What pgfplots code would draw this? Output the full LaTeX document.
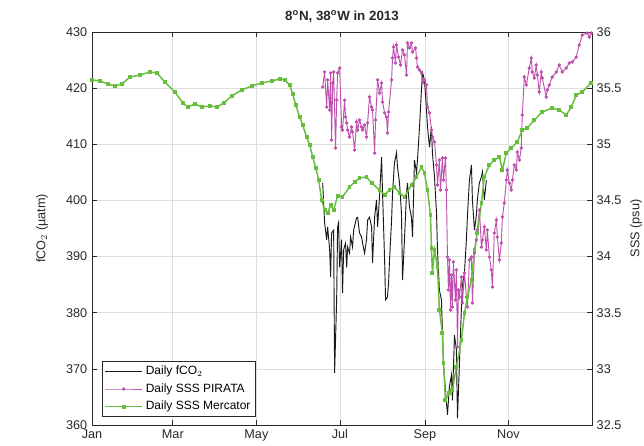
\documentclass[border=0pt]{standalone}
\usepackage{fontspec}
\setmainfont{Liberation Sans}
\usepackage{pgfplots}
\pgfplotsset{compat=1.18}
\definecolor{pirata}{RGB}{190,80,175}
\definecolor{merc}{RGB}{102,190,60}
\definecolor{gridc}{RGB}{222,222,222}
\definecolor{axc}{RGB}{40,40,40}
\pgfplotsset{
  common/.style={
    at={(0,0)}, anchor=south west, scale only axis,
    width=375pt, height=294.75pt,
    xmin=0, xmax=365,
    axis line style={axc, line width=0.6pt},
    tick style={axc, line width=0.5pt}, major tick length=4pt,
    tick label style={font=\fontsize{9.5}{11}\selectfont, text=axc},
    label style={font=\fontsize{9.5}{11}\selectfont, text=axc},
    /pgf/number format/assume math mode=true,
  }
}
\begin{document}
\begin{tikzpicture}[x=1pt,y=1pt]
\useasboundingbox (-69,-15.75) rectangle (414,318.75);
\begin{axis}[common,
  ymin=360, ymax=430,
  xtick={0,59,120,181,243,304}, xticklabels={Jan,Mar,May,Jul,Sep,Nov},
  ytick={360,370,380,390,400,410,420,430}, ytick pos=left,
  grid=major, major grid style={gridc, line width=0.5pt},
  ylabel={fCO$_2$ (µatm)},
  ylabel style={at={(axis description cs:-0.1,0.5)}, anchor=center},
  title={\textbf{8\textsuperscript{o}N, 38\textsuperscript{o}W in 2013}},
  title style={font=\fontsize{10}{12}\selectfont, text=axc, at={(axis description cs:0.5,1)}, anchor=south, yshift=-2.5pt},
]
\addplot[black!90, line width=0.7pt] coordinates {
(168.4,403.1) (169.8,396.0) (171.3,393.0) (172.0,395.3) (173.5,391.2) (174.2,386.4) (174.9,394.2) (176.4,394.7) (177.1,369.3) (178.6,382.3) (179.3,395.3) (180.0,396.0) (180.8,388.1) (182.2,393.0) (182.9,383.5) (183.7,391.2) (185.1,392.4) (185.9,388.1) (186.6,391.7) (188.0,390.6) (188.8,393.5) (190.2,391.7) (191.0,394.7) (193.1,396.9) (193.9,397.0) (195.3,394.2) (196.8,393.5) (197.5,392.4) (199.0,390.6) (200.4,393.0) (201.2,396.5) (202.6,397.0) (204.1,395.3) (204.8,388.9) (206.3,397.0) (207.7,400.1) (208.5,395.3) (209.9,400.6) (211.4,407.7) (212.1,401.3) (213.6,389.4) (214.3,382.3) (215.7,382.8) (216.5,385.3) (217.2,389.4) (218.7,396.5) (219.4,401.3) (220.8,406.7) (222.3,408.5) (223.0,406.0) (224.5,403.1) (225.9,397.8) (226.7,385.8) (228.1,393.0) (229.6,401.3) (230.3,403.1) (231.8,398.8) (233.2,397.0) (234.0,393.5) (235.4,407.2) (236.9,404.9) (237.6,407.2) (239.1,413.1) (240.5,419.7) (241.3,422.7) (242.7,421.5) (244.2,416.1) (244.9,413.1) (246.4,409.5) (247.8,413.1) (248.5,408.5) (250.0,404.2) (251.5,397.8) (252.2,391.2) (253.6,384.0) (255.1,382.3) (255.8,376.9) (256.6,370.7) (258.0,366.2) (259.5,361.8) (260.9,366.8) (262.4,368.9) (263.1,364.4) (264.6,376.0) (266.0,373.4) (266.8,361.2) (268.2,370.7) (269.7,381.0) (270.4,384.9) (271.9,387.1) (273.3,393.0) (274.1,397.4) (275.5,403.6) (277.0,406.3) (277.7,400.1) (279.2,394.7) (280.6,397.4) (281.3,400.1) (282.8,403.1) (284.3,404.2) (285.0,405.1) (286.4,400.1) (287.9,403.6)
};
\end{axis}
\begin{axis}[common,
  ymin=32.5, ymax=36,
  xtick=\empty,
  ytick={32.5,33,33.5,34,34.5,35,35.5,36}, ytick pos=right, yticklabel pos=right,
  ylabel={SSS (psu)},
  ylabel style={at={(axis description cs:1.088,0.5)}, anchor=center, rotate=0},
  legend style={at={(axis description cs:0.02,0.0204)}, anchor=south west,
    draw=axc, line width=0.5pt, fill=white, font=\fontsize{9}{11}\selectfont,
    inner sep=1.5pt, row sep=1.2pt},
  legend cell align=left,
  legend image code/.code={\draw[mark repeat=2,mark phase=2,#1] plot coordinates {(0pt,0pt) (14pt,0pt) (28pt,0pt)};},
]
\addlegendimage{black!90, line width=0.7pt}
\addlegendentry{Daily fCO$_2$}
\addplot[pirata, line width=0.7pt, mark=*, mark size=0.9pt] coordinates {
(168.4,35.510) (169.8,35.644) (171.3,35.332) (172.0,35.573) (173.5,35.305) (174.2,35.635) (174.9,35.038) (175.7,35.546) (176.4,35.644) (177.8,34.967) (178.6,35.394) (179.3,35.635) (180.8,35.679) (182.2,35.154) (182.9,35.127) (184.4,35.394) (185.1,35.243) (185.9,35.190) (186.6,35.127) (188.0,35.065) (189.5,35.154) (190.2,35.109) (191.7,34.949) (193.1,35.199) (193.9,35.127) (195.3,35.216) (196.8,35.154) (197.5,35.127) (199.0,35.172) (200.4,35.065) (201.2,35.190) (202.6,35.421) (204.1,35.332) (204.8,35.305) (206.3,34.922) (207.0,35.216) (208.5,35.573) (209.9,35.457) (211.4,35.546) (212.1,35.377) (213.6,35.279) (215.0,35.243) (215.7,35.101) (216.5,35.288) (218.7,35.573) (219.4,35.768) (220.1,35.866) (221.6,35.724) (222.3,35.884) (223.8,35.777) (225.2,35.706) (226.7,35.840) (228.1,35.795) (229.6,35.617) (230.3,35.902) (231.8,35.858) (233.2,35.902) (234.0,35.822) (236.2,35.858) (236.9,35.768) (237.6,35.688) (239.1,35.662) (240.5,35.635) (241.3,35.546) (242.7,35.573) (244.2,35.528) (244.9,35.332) (246.4,35.279) (247.8,35.127) (248.5,35.065) (250.0,35.020) (251.5,34.816) (252.2,34.638) (253.6,34.860) (254.4,34.593) (255.8,34.878) (256.6,34.682) (258.0,34.878) (258.7,34.593) (259.5,33.996) (260.2,33.703) (260.9,33.970) (261.7,33.524) (262.4,33.836) (263.1,33.551) (263.8,33.952) (265.3,33.613) (266.0,33.881) (266.8,33.195) (267.5,33.703) (268.2,33.640) (269.7,33.818) (270.4,33.587) (271.9,33.854) (273.3,33.640) (274.1,33.551) (275.5,33.970) (277.0,33.996) (277.7,33.587) (279.2,34.032) (280.6,34.148) (281.3,34.237) (282.8,34.415) (284.3,34.085) (285.0,34.148) (286.4,34.264) (287.9,34.059) (288.6,34.237) (290.1,33.996) (291.5,33.881) (292.3,33.729) (293.7,34.210) (295.2,34.326) (295.9,34.174) (297.4,33.970) (298.8,34.121) (299.6,34.353) (301.0,34.477) (302.5,34.682) (303.2,34.771) (304.7,34.655) (306.1,34.593) (306.9,34.682) (308.3,34.816) (309.8,34.771) (310.5,34.931) (312.0,34.860) (313.4,34.967) (314.1,35.261) (315.6,35.599) (317.1,35.528) (319.2,35.679) (320.7,35.768) (321.4,35.644) (322.9,35.590) (324.3,35.706) (325.1,35.617) (326.5,35.466) (328.0,35.644) (328.7,35.590) (331.6,35.421) (332.4,35.484) (333.8,35.528) (336.0,35.599) (338.9,35.644) (341.1,35.706) (343.3,35.644) (346.2,35.679) (348.4,35.724) (350.6,35.733) (353.5,35.777) (355.7,35.884) (357.9,35.973) (361.5,35.99) (363.0,35.955) (364.4,35.991)
};
\addlegendentry{Daily SSS PIRATA}
\addplot[merc, line width=1.1pt, mark=square*, mark size=0.9pt] coordinates {
(0,35.573) (5.8,35.564) (11.7,35.537) (16.8,35.519) (21.9,35.537) (27.7,35.599) (35.0,35.617) (42.3,35.644) (47.4,35.635) (53.2,35.555) (60.5,35.466) (66.3,35.368) (70.0,35.332) (75.1,35.359) (80.2,35.332) (86.0,35.341) (91.1,35.332) (96.2,35.368) (102.0,35.430) (109.3,35.484) (116.6,35.519) (123.9,35.546) (131.2,35.564) (137.0,35.581) (140.7,35.573) (144.3,35.528) (146.5,35.448) (148.7,35.350) (151.6,35.243) (153.8,35.172) (156.7,35.065) (158.9,34.994) (161.1,34.887) (163.3,34.789) (165.5,34.682) (167.6,34.504) (169.8,34.415) (172.0,34.388) (174.2,34.459) (176.4,34.415) (179.3,34.540) (182.9,34.531) (188.0,34.620) (191.7,34.664) (195.3,34.700) (200.4,34.709) (204.1,34.655) (209.9,34.593) (213.6,34.549) (217.2,34.593) (220.8,34.620) (224.5,34.566) (228.1,34.531) (233.2,34.638) (236.9,34.709) (240.5,34.798) (242.7,34.744) (244.9,34.593) (247.1,34.370) (247.8,34.077) (248.5,33.854) (250.0,34.059) (252.2,33.907) (253.6,33.524) (255.8,33.320) (256.6,33.053) (258.0,32.723) (260.9,32.785) (263.1,32.812) (266.0,33.017) (269.7,33.257) (271.9,33.498) (274.1,33.640) (277.0,33.792) (279.2,34.059) (281.3,34.210) (284.3,34.477) (286.4,34.709) (290.1,34.816) (293.7,34.860) (297.4,34.887) (299.6,34.771) (302.5,34.923) (306.1,34.967) (310.5,35.020) (314.1,35.127) (317.8,35.145) (322.9,35.216) (328.7,35.288) (336.0,35.323) (341.1,35.305) (346.2,35.261) (349.9,35.332) (353.5,35.439) (357.9,35.466) (364.4,35.546)
};
\addlegendentry{Daily SSS Mercator}
\end{axis}
\end{tikzpicture}
\end{document}
